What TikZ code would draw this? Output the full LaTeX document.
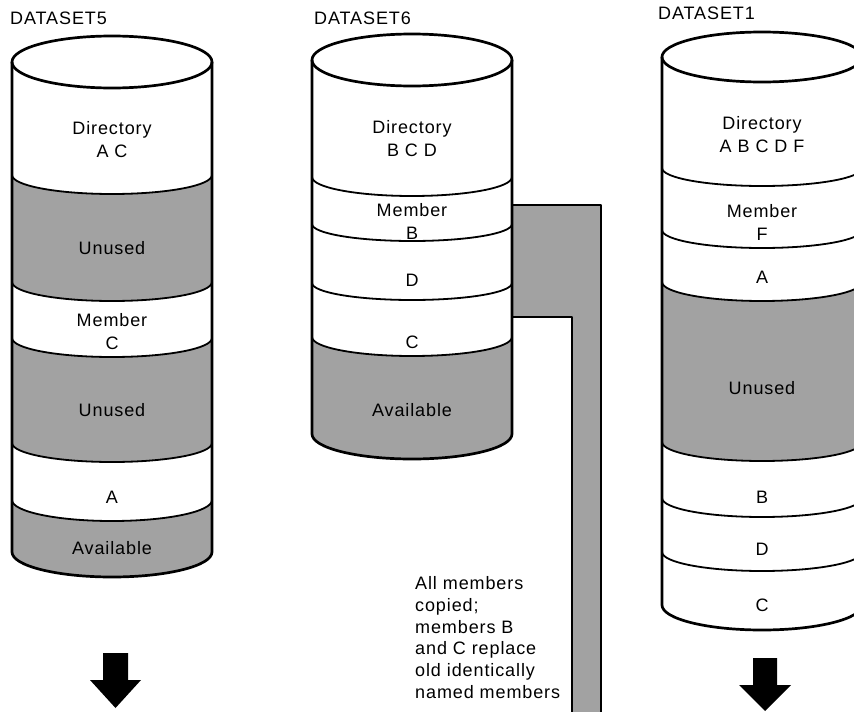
\documentclass[tikz,border=0pt]{standalone}
\usepackage{fontspec}
\setmainfont{Liberation Sans}[LetterSpace=5]
\definecolor{shade}{RGB}{162,162,162}
\newcommand{\cylband}[5]{% left x, upper edge y, upper sag, lower edge y, lower sag
  \fill[shadefill] (#1,-#2) arc[start angle=180,end angle=360,x radius=100,y radius=#3]
    -- ({#1+200},{-#4}) arc[start angle=0,end angle=-180,x radius=100,y radius=#5] -- cycle;}
\newcommand{\cylarc}[3]{% left x, edge y, sag
  \draw[innerline] (#1,-#2) arc[start angle=180,end angle=360,x radius=100,y radius=#3];}
\newcommand{\cylbody}[4]{% left x, top centre y, top ry, bottom edge y
  \fill[white] ({#1+100},-#2) ellipse[x radius=100,y radius=#3];
  \draw[outerline] ({#1+100},-#2) ellipse[x radius=100,y radius=#3];
  \draw[outerline] (#1,-#2) -- (#1,-#4) arc[start angle=180,end angle=360,x radius=100,y radius=25] -- ({#1+200},-#2);}
\tikzset{
  shadefill/.style={fill=shade},
  innerline/.style={line width=1.8pt},
  outerline/.style={line width=2.7pt, line join=round},
  lbl/.style={font=\fontsize{18}{23}\selectfont, align=center, inner sep=0pt},
  title/.style={font=\fontsize{18}{22}\selectfont, anchor=west, inner sep=0pt},
  blockarrow/.style={fill=black},
}
\begin{document}
\begin{tikzpicture}[x=1pt,y=1pt]
\useasboundingbox (0,0) rectangle (854,-712);
\clip (0,0) rectangle (854,-712);

% ---------- DATASET5 ----------
\cylband{12}{175}{19}{282}{19}
\cylband{12}{338}{19}{443}{19}
\cylband{12}{500}{21}{552}{25}
\cylarc{12}{175}{19}
\cylarc{12}{282}{19}
\cylarc{12}{338}{19}
\cylarc{12}{443}{19}
\cylarc{12}{500}{21}
\cylbody{12}{62}{26}{552}
\node[title] (t5) at (10,-18) {DATASET5};
\node[lbl] (d5dir) at (112,-140) {Directory\\A C};
\node[lbl] (d5u1) at (112,-248) {Unused};
\node[lbl] (d5c) at (112,-332) {Member\\C};
\node[lbl] (d5u2) at (112,-410) {Unused};
\node[lbl] (d5a) at (112,-497) {A};
\node[lbl] (d5av) at (112,-548) {Available};
\fill[blockarrow] (103,-653) -- (128,-653) -- (128,-680) -- (141,-680) -- (115.5,-708) -- (90,-680) -- (103,-680) -- cycle;

% ---------- DATASET6 ----------
\fill[shadefill] (512,-205) -- (601,-205) -- (601,-714) -- (572,-714) -- (572,-317) -- (512,-317) -- cycle;
\draw[outerline] (512,-205) -- (601,-205) -- (601,-714);
\draw[outerline] (512,-317) -- (572,-317) -- (572,-714);
\cylband{312}{337}{19}{434}{25}
\cylarc{312}{177}{19}
\cylarc{312}{224}{17}
\cylarc{312}{283}{17}
\cylarc{312}{337}{19}
\cylbody{312}{60}{26}{434}
\node[title] (t6) at (314,-18) {DATASET6};
\node[lbl] (d6dir) at (412,-139) {Directory\\B C D};
\node[lbl] (d6b) at (412,-221) {Member\\B};
\node[lbl] (d6d) at (412,-280) {D};
\node[lbl] (d6c) at (412,-342) {C};
\node[lbl] (d6av) at (412,-410) {Available};
\node[font=\fontsize{18}{21.8}\selectfont, align=left, anchor=west, inner sep=0pt] (note) at (415,-637.5)
  {All members\\copied;\\members B\\and C replace\\old identically\\named members};

% ---------- DATASET1 ----------
\cylband{662}{282}{19}{442}{19}
\cylarc{662}{168}{18}
\cylarc{662}{230}{18}
\cylarc{662}{282}{19}
\cylarc{662}{442}{19}
\cylarc{662}{498}{19}
\cylarc{662}{552}{19}
\cylbody{662}{57}{25}{605}
\node[title] (t1) at (658,-13) {DATASET1};
\node[lbl] (d1dir) at (762,-135) {Directory\\A B C D F};
\node[lbl] (d1f) at (762,-222) {Member\\F};
\node[lbl] (d1a) at (762,-277) {A};
\node[lbl] (d1u) at (762,-388) {Unused};
\node[lbl] (d1b) at (762,-497) {B};
\node[lbl] (d1d) at (762,-549) {D};
\node[lbl] (d1c) at (762,-605) {C};
\fill[blockarrow] (753,-658) -- (777,-658) -- (777,-685) -- (791,-685) -- (765,-711) -- (739,-685) -- (753,-685) -- cycle;
\end{tikzpicture}
\end{document}
